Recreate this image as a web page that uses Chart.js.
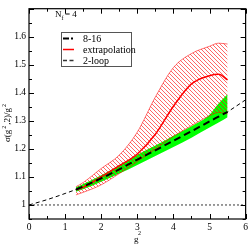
<!DOCTYPE html>
<html>
<head>
<meta charset="utf-8">
<script src="https://cdn.jsdelivr.net/npm/chart.js@4.4.1/dist/chart.umd.min.js"></script>
<style>
  html, body { margin: 0; padding: 0; background: #fff; }
  canvas { display: block; }
</style>
</head>
<body>
<canvas id="c" width="251" height="245"></canvas>
<script>
// g^2 grid shared by the two bands
const bandX = [1.3, 1.5, 2, 2.5, 3, 3.5, 4, 4.5, 5, 5.25, 5.5];
// extrapolation (red line + hatched band)
const extrapCenter = [1.054, 1.063, 1.100, 1.140, 1.182, 1.252, 1.352, 1.432, 1.461, 1.466, 1.446];
const extrapUpper  = [1.065, 1.080, 1.130, 1.178, 1.260, 1.385, 1.490, 1.540, 1.566, 1.577, 1.574];
const extrapLower  = [1.036, 1.045, 1.072, 1.112, 1.155, 1.200, 1.245, 1.283, 1.318, 1.330, 1.325];
// 8-16 (black dashed line + green band)
const fitCenter = [1.055, 1.066, 1.095, 1.127, 1.162, 1.195, 1.229, 1.263, 1.298, 1.315, 1.332];
const fitUpper  = [1.063, 1.075, 1.106, 1.142, 1.179, 1.212, 1.247, 1.281, 1.322, 1.362, 1.395];
const fitLower  = [1.047, 1.056, 1.083, 1.112, 1.143, 1.175, 1.207, 1.240, 1.276, 1.294, 1.313];
// 2-loop curve
const loopX = [0, 0.5, 1, 1.5, 2, 2.5, 3, 3.5, 4, 4.5, 5, 5.5, 6];
const loopY = [1.000, 1.019, 1.041, 1.065, 1.091, 1.119, 1.149, 1.181, 1.216, 1.252, 1.291, 1.332, 1.375];
// reference line at 1
const unitX = [0, 6];
const unitY = [1, 1];
// tick labels
const xTicks = [0, 1, 2, 3, 4, 5, 6];
const yTicks = [1, 1.1, 1.2, 1.3, 1.4, 1.5, 1.6];

const SERIF = "'Liberation Serif', 'DejaVu Serif', serif";

function pts(xs, ys) {
    return xs.map((v, i) => ({ x: v, y: ys[i] }));
}

// red diagonal hatch pattern
function hatch() {
    const p = document.createElement('canvas');
    p.width = 4; p.height = 4;
    const c = p.getContext('2d');
    c.fillStyle = 'rgba(255,0,0,0.6)';
    for (let i = 0; i < 4; i++) c.fillRect(i, i, 1, 1);
    return c.createPattern(p, 'repeat');
}

// frame, inward ticks, titles and legend
const decor = {
    id: 'decor',
    afterDraw(chart) {
        const { ctx, chartArea: a, scales: { x, y } } = chart;
        ctx.save();
        ctx.strokeStyle = '#000';
        ctx.lineWidth = 1.2;
        ctx.strokeRect(a.left, a.top, a.right - a.left, a.bottom - a.top);

        ctx.lineWidth = 1;
        ctx.beginPath();
        for (let k = 0; k <= 12; k++) {
            const px = Math.round(x.getPixelForValue(k * 0.5)) + 0.5;
            const len = k % 2 === 0 ? 5 : 3;
            ctx.moveTo(px, a.bottom); ctx.lineTo(px, a.bottom - len);
            ctx.moveTo(px, a.top); ctx.lineTo(px, a.top + len);
        }
        for (let k = 19; k <= 34; k++) {
            const py = Math.round(y.getPixelForValue(k * 0.05)) + 0.5;
            const len = k % 2 === 0 ? 5 : 3;
            ctx.moveTo(a.left, py); ctx.lineTo(a.left + len, py);
            ctx.moveTo(a.right, py); ctx.lineTo(a.right - len, py);
        }
        ctx.stroke();

        ctx.fillStyle = '#000';
        ctx.textBaseline = 'alphabetic';
        ctx.textAlign = 'left';

        // N_f = 4
        ctx.font = '9px ' + SERIF;
        ctx.fillText('N', 55, 17);
        ctx.font = '6px ' + SERIF;
        ctx.fillText('f', 61.5, 20);
        ctx.font = '9px ' + SERIF;
        ctx.fillText('= 4', 65, 17);

        // x title
        ctx.fillText('g', 134, 242);
        ctx.font = '6px ' + SERIF;
        ctx.fillText('2', 138, 235);

        // y title, rotated
        ctx.save();
        ctx.translate(10, 142);
        ctx.rotate(-Math.PI / 2);
        const parts = [['\u03c3(g', 0], ['2', 1], [',2)/g', 0], ['2', 1]];
        let cx = 0;
        for (const [t, sup] of parts) {
            ctx.font = (sup ? '6px ' : '9px ') + SERIF;
            ctx.fillText(t, cx, sup ? -4 : 0);
            cx += ctx.measureText(t).width + 1;
        }
        ctx.restore();

        // legend
        ctx.fillStyle = '#fff';
        ctx.fillRect(61, 32, 70, 34);
        ctx.strokeStyle = '#555';
        ctx.lineWidth = 1;
        ctx.strokeRect(61.5, 32.5, 70, 34);

        ctx.lineWidth = 2;
        ctx.strokeStyle = '#000';
        ctx.beginPath();
        ctx.moveTo(63, 38.5); ctx.lineTo(69, 38.5);
        ctx.moveTo(71, 38.5); ctx.lineTo(73, 38.5);
        ctx.stroke();
        ctx.strokeStyle = '#ff0000';
        ctx.lineWidth = 1.5;
        ctx.beginPath();
        ctx.moveTo(63, 49.5); ctx.lineTo(74, 49.5);
        ctx.stroke();
        ctx.strokeStyle = '#333';
        ctx.lineWidth = 1.5;
        ctx.beginPath();
        ctx.moveTo(63, 60.5); ctx.lineTo(67, 60.5);
        ctx.moveTo(69.5, 60.5); ctx.lineTo(73.5, 60.5);
        ctx.stroke();

        ctx.fillStyle = '#000';
        ctx.font = '10px ' + SERIF;
        ctx.fillText('8-16', 83, 41.5);
        ctx.fillText('extrapolation', 83, 52.5);
        ctx.fillText('2-loop', 83, 63.5);
        ctx.restore();
    }
};

// datasets are painted last-to-first, so the first entries end up on top
new Chart(document.getElementById('c'), {
    type: 'line',
    data: {
        datasets: [
            { data: pts(bandX, fitCenter), borderColor: '#000', borderWidth: 2, borderDash: [7, 4], fill: false },
            { data: pts(bandX, extrapCenter), borderColor: '#ff0000', borderWidth: 1.5, fill: false },
            { data: pts(bandX, extrapUpper), borderColor: 'rgba(255,0,0,0.7)', borderWidth: 0.8,
              backgroundColor: hatch(), fill: '+1' },
            { data: pts(bandX, extrapLower), borderColor: 'rgba(255,0,0,0.7)', borderWidth: 0.8, fill: false },
            { data: pts(bandX, fitUpper), borderColor: 'rgba(0,0,0,0)', borderWidth: 1,
              backgroundColor: '#00ff00', fill: '+1' },
            { data: pts(bandX, fitLower), borderColor: 'rgba(0,0,0,0)', borderWidth: 1, fill: false },
            { data: pts(loopX, loopY), borderColor: '#000', borderWidth: 1, borderDash: [4, 3], fill: false },
            { data: pts(unitX, unitY), borderColor: '#000', borderWidth: 0.8, borderDash: [2, 2], fill: false }
        ]
    },
    options: {
        responsive: false,
        animation: false,
        devicePixelRatio: 1,
        elements: { point: { radius: 0 }, line: { cubicInterpolationMode: 'monotone' } },
        layout: { padding: { top: 1, right: 3, left: 0, bottom: 0 } },
        plugins: { legend: { display: false }, tooltip: { enabled: false } },
        scales: {
            x: {
                type: 'linear', min: 0, max: 6,
                afterBuildTicks: s => { s.ticks = xTicks.map(v => ({ value: v })); },
                afterFit: s => { s.height = 26; },
                ticks: { font: { family: SERIF, size: 9.5 }, color: '#000', padding: 3, maxRotation: 0 },
                grid: { display: false, drawTicks: false },
                border: { display: false }
            },
            y: {
                type: 'linear', min: 0.95, max: 1.7,
                afterBuildTicks: s => { s.ticks = yTicks.map(v => ({ value: v })); },
                afterFit: s => { s.width = 29; },
                ticks: {
                    font: { family: SERIF, size: 9.5 }, color: '#000', padding: 3,
                    callback: v => (v === 1 ? '1' : v.toFixed(1))
                },
                grid: { display: false, drawTicks: false },
                border: { display: false }
            }
        }
    },
    plugins: [decor]
});
</script>
</body>
</html>
